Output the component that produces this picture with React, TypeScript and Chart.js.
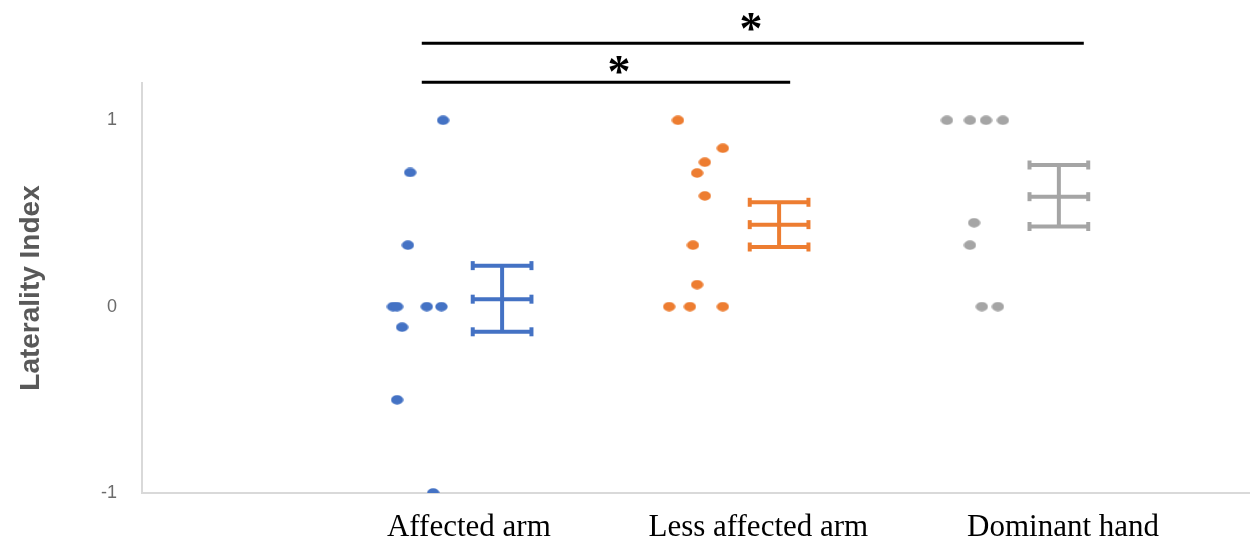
import React, { useEffect, useRef } from "react";
import { Chart, registerables } from "chart.js";

Chart.register(...registerables);

// Categories and where their labels sit on the x scale
const categories = ["Affected arm", "Less affected arm", "Dominant hand"];
const categoryTickX = [1.18, 2.225, 3.325];
const yTickValues = [-1, 0, 1];

// Individual points (x = jittered position, y = laterality index)
const affectedX = [1.087, 0.968, 0.96, 0.906, 0.921, 1.028, 1.081, 0.939, 0.921, 1.051];
const affectedY = [1.0, 0.72, 0.33, 0.0, 0.0, 0.0, 0.0, -0.11, -0.5, -1.0];

const lessAffectedX = [1.935, 2.097, 2.032, 2.004, 2.032, 1.989, 2.004, 1.903, 1.978, 2.097];
const lessAffectedY = [1.0, 0.85, 0.775, 0.717, 0.594, 0.33, 0.118, 0.0, 0.0, 0.0];

const dominantX = [2.906, 2.989, 3.047, 3.108, 3.004, 2.989, 3.032, 3.09];
const dominantY = [1.0, 1.0, 1.0, 1.0, 0.45, 0.33, 0.0, 0.0];

// Mean and error bars
const errX = [1.3, 2.3, 3.31];
const errMean = [0.04, 0.44, 0.59];
const errLow = [-0.135, 0.32, 0.43];
const errHigh = [0.22, 0.56, 0.76];
const capHalf = 0.106;

// Significance brackets
const sigFrom = [1.01, 1.01];
const sigTo = [2.34, 3.4];
const sigLevel = [1.204, 1.413];
const starX = [1.722, 2.199];
const starY = [1.298, 1.525];

const colors = ["#4472C4", "#ED7D31", "#A5A5A5"];

function makeEllipse(color: string, w = 13, h = 10) {
  const c = document.createElement("canvas");
  c.width = w;
  c.height = h;
  const ctx = c.getContext("2d")!;
  ctx.fillStyle = color;
  ctx.beginPath();
  ctx.ellipse(w / 2, h / 2, w / 2 - 0.3, h / 2 - 0.3, 0, 0, Math.PI * 2);
  ctx.fill();
  return c;
}

const sigPlugin = {
  id: "sigPlugin",
  afterDraw(chart: any) {
    const { ctx } = chart;
    const xs = chart.scales.x;
    const ys = chart.scales.y;
    ctx.save();
    ctx.strokeStyle = "#000";
    ctx.lineWidth = 3;
    for (let i = 0; i < sigFrom.length; i++) {
      const y = ys.getPixelForValue(sigLevel[i]);
      ctx.beginPath();
      ctx.moveTo(xs.getPixelForValue(sigFrom[i]), y);
      ctx.lineTo(xs.getPixelForValue(sigTo[i]), y);
      ctx.stroke();
      ctx.fillStyle = "#000";
      ctx.font = 'bold 46px "Liberation Serif"';
      ctx.textAlign = "left";
      ctx.textBaseline = "alphabetic";
      const m = ctx.measureText("*");
      const cx = xs.getPixelForValue(starX[i]);
      const cy = ys.getPixelForValue(starY[i]);
      const gx = cx - (m.actualBoundingBoxRight - m.actualBoundingBoxLeft) / 2;
      const gy = cy + (m.actualBoundingBoxAscent - m.actualBoundingBoxDescent) / 2;
      ctx.fillText("*", gx, gy);
    }
    ctx.restore();
  },
};

export default function App() {
  const ref = useRef<HTMLCanvasElement | null>(null);

  useEffect(() => {
    if (!ref.current) return;
    const groups = [
      { xs: affectedX, ys: affectedY },
      { xs: lessAffectedX, ys: lessAffectedY },
      { xs: dominantX, ys: dominantY },
    ];
    const datasets: any[] = [];
    groups.forEach((g, gi) => {
      datasets.push({
        label: categories[gi],
        data: g.xs.map((x, i) => ({ x, y: g.ys[i] })),
        pointStyle: makeEllipse(colors[gi]),
        backgroundColor: colors[gi],
        borderColor: colors[gi],
        showLine: false,
      });
      // vertical stem
      datasets.push({
        label: categories[gi] + " stem",
        data: [
          { x: errX[gi], y: errLow[gi] },
          { x: errX[gi], y: errHigh[gi] },
        ],
        showLine: true,
        borderColor: colors[gi],
        borderWidth: 4,
        pointRadius: 0,
      });
      // caps + mean line
      const c = errX[gi];
      const levels = [errHigh[gi], errMean[gi], errLow[gi]];
      const capData: any[] = [];
      levels.forEach((lv, li) => {
        capData.push({ x: c - capHalf, y: lv });
        capData.push({ x: c + capHalf, y: lv });
        if (li < levels.length - 1) capData.push({ x: c, y: null });
      });
      datasets.push({
        label: categories[gi] + " caps",
        data: capData,
        showLine: true,
        spanGaps: false,
        borderColor: colors[gi],
        borderWidth: 4,
        pointStyle: "line",
        rotation: 90,
        pointRadius: 4.5,
        pointBorderWidth: 4,
        pointBorderColor: colors[gi],
        pointBackgroundColor: colors[gi],
      });
    });

    const chart = new Chart(ref.current, {
      type: "scatter",
      data: { datasets },
      options: {
        animation: false,
        responsive: false,
        maintainAspectRatio: false,
        layout: { autoPadding: false, padding: { top: 83, right: 0, left: 0, bottom: 0 } },
        plugins: { legend: { display: false }, tooltip: { enabled: false } },
        scales: {
          x: {
            type: "linear",
            min: 0,
            max: 4,
            grid: { display: false },
            border: { display: true, color: "#d9d9d9", width: 2 },
            afterBuildTicks: (s: any) => {
              s.ticks = categoryTickX.map((v) => ({ value: v }));
            },
            ticks: {
              callback: (_v: any, i: number) => categories[i],
              font: { family: '"Liberation Serif"', size: 31 },
              color: "#000",
              padding: 8,
              maxRotation: 0,
              autoSkip: false,
            },
            afterFit: (s: any) => {
              s.height = 47;
              s.paddingLeft = 0;
              s.paddingRight = 0;
            },
          },
          y: {
            type: "linear",
            min: -1,
            max: 1.2,
            grid: { display: false },
            border: { display: true, color: "#d9d9d9", width: 2 },
            afterBuildTicks: (s: any) => {
              s.ticks = yTickValues.map((v) => ({ value: v }));
            },
            ticks: {
              font: { family: '"Liberation Sans"', size: 18 },
              color: "#6b6b6b",
              padding: 17,
            },
            title: {
              display: true,
              text: "Laterality Index",
              font: { family: '"Liberation Sans"', size: 28, weight: "bold" },
              color: "#595959",
              padding: { top: 14, bottom: 0 },
            },
            afterFit: (s: any) => {
              s.width = 142;
            },
          },
        },
      } as any,
      plugins: [sigPlugin],
    });
    return () => chart.destroy();
  }, []);

  return (
    <div style={{ position: "fixed", left: 0, top: 0, width: 1250, height: 540, background: "#fff" }}>
      <canvas ref={ref} width={1250} height={540} style={{ display: "block", width: 1250, height: 540 }} />
    </div>
  );
}
